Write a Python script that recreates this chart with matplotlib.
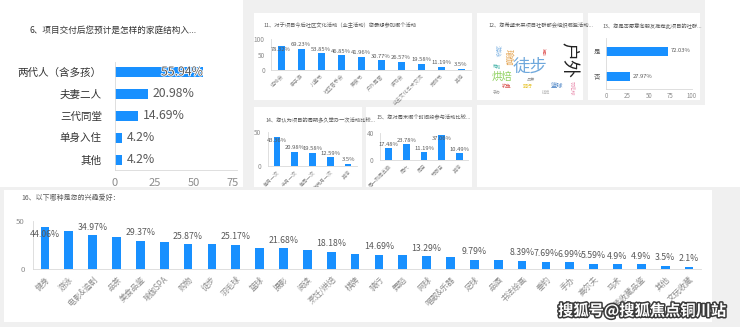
import matplotlib
matplotlib.use("Agg")
import matplotlib.pyplot as plt
from matplotlib.patches import Rectangle
import matplotlib.patheffects as pe

plt.rcParams['font.family'] = ['Noto Sans CJK SC', 'DejaVu Sans']

# ---------------- data ----------------
q6_title = "6、项目交付后您预计是怎样的家庭结构入..."
q6_cats = ["两代人（含多孩）", "夫妻二人", "三代同堂", "单身入住", "其他"]
q6_vals = [55.94, 20.98, 14.69, 4.2, 4.2]

q11_title = "11、对于项目今后社区文化活动（业主活动）您最想参加哪个活动"
q11_cats = ["运动会", "亲子游", "儿童节", "社区音乐会", "美食节", "户外露营",
            "读书会", "业主文化艺术交流", "宠物节", "其他"]
q11_vals = [78.32, 69.23, 53.85, 46.85, 41.96, 30.77, 26.57, 19.58, 11.19, 3.5]

q12_title = "12、您希望未来项目社群都会组织哪些活动..."
q12_words = ["户外", "徒步", "烘焙", "瑜伽", "游泳", "篮球", "羽毛球", "钓鱼",
             "骑行", "品茶", "摄影", "手办", "棋牌", "舞蹈"]
q12_weights = [13, 12.5, 7.5, 6, 4.5, 4.5, 3.5, 3.5, 3.5, 3, 3, 3, 3, 3]

q13_title = "13、您是否愿意向朋友推荐此项目的社群..."
q13_cats = ["是", "否"]
q13_vals = [72.03, 27.97]

q14_title = "14、您认为项目的周期多久举办一次活动比较..."
q14_cats = ["每月一次", "半月一次", "每周一次", "每两月一次", "其他"]
q14_vals = [43.36, 20.98, 19.58, 12.59, 3.5]

q15_title = "15、您对周末哪个时间段参与活动比较..."
q15_cats = ["周一到周五晚", "周六", "周日", "节假日", "其他"]
q15_vals = [17.48, 23.78, 11.19, 37.06, 10.49]

q16_title = "16、以下哪种是您的兴趣爱好："
q16_cats = ["健身", "游泳", "电影&追剧", "品茶", "美食品鉴", "瑜伽SPA", "购物",
            "徒步", "羽毛球", "篮球", "摄影", "阅读", "烹饪/烘焙", "棋牌", "骑行",
            "舞蹈", "网球", "唱歌&乐器", "足球", "品酒", "书法绘画", "垂钓", "手办",
            "高尔夫", "马术", "古董收藏品鉴", "其他", "文玩收藏"]
q16_vals = [44.06, 39.86, 34.97, 33.57, 29.37, 27.97, 25.87, 25.87, 25.17, 21.68,
            21.68, 20.28, 18.18, 15.38, 14.69, 14.69, 13.29, 12.59, 9.79, 9.09,
            8.39, 7.69, 6.99, 5.59, 4.9, 4.9, 3.5, 2.1]
# value labels are thinned to every other bar while they are wide
q16_dense_from = 20

watermark = "搜狐号@搜狐焦点铜川站"

# ---------------- styling ----------------
BLUE = "#1890ff"
SPINE = "#d9d9d9"
TICK = "#8c8c8c"
LABEL = "#595959"

W, H = 740, 327
fig = plt.figure(figsize=(W / 100, H / 100), dpi=100, facecolor="#f0f0f0")


def box(x0, y0, x1, y1):
    return [x0 / W, 1 - y1 / H, (x1 - x0) / W, (y1 - y0) / H]


def card(x0, y0, x1, y1, z=-1, color="white"):
    fig.add_artist(Rectangle((x0 / W, 1 - y1 / H), (x1 - x0) / W, (y1 - y0) / H,
                             transform=fig.transFigure, facecolor=color,
                             edgecolor="none", zorder=z))


def ftext(x, y, s, **kw):
    return fig.text(x / W, 1 - y / H, s, **kw)


def style(ax, left=True):
    ax.set_facecolor("none")
    for s in ("top", "right"):
        ax.spines[s].set_visible(False)
    ax.spines["left"].set_visible(left)
    ax.spines["left"].set_color(SPINE)
    ax.spines["bottom"].set_color(SPINE)
    ax.spines["left"].set_linewidth(0.6)
    ax.spines["bottom"].set_linewidth(0.6)


def vbar_panel(ax, cats, vals, top, yticks, fs_val, fs_tick, fs_cat, ypad, cat_pad,
               width, label_px, gap_pt):
    style(ax)
    x = list(range(len(cats)))
    ax.bar(x, vals, width=width, color=BLUE)
    ax.set_xlim(-0.5, len(cats) - 0.5)
    ax.set_ylim(0, top)
    ax.set_yticks(yticks)
    ax.tick_params(axis="y", length=0, pad=ypad, labelsize=fs_tick, labelcolor=TICK)
    ax.set_xticks(x, cats, rotation=45, ha="right", rotation_mode="anchor")
    ax.tick_params(axis="x", length=0, pad=cat_pad, labelsize=fs_cat, labelcolor=TICK)
    h_px = ax.get_position().height * H
    room = label_px / h_px * top
    texts = []
    for xi, v in zip(x, vals):
        inside = v + room > top
        t = ax.annotate(f"{v:g}%", (xi, v), xytext=(0, -gap_pt if inside else gap_pt),
                        textcoords="offset points", ha="center",
                        va="top" if inside else "bottom", fontsize=fs_val,
                        color=LABEL)
        texts.append(t)
    return texts


# ---------------- card backgrounds ----------------
card(0, 0, 243, 187)
card(254, 13, 472, 100)
card(477, 13, 583, 100)
card(588, 13, 700, 100)
card(705, 0, 740, 187)
card(254, 107, 362, 187)
card(366, 107, 472, 187)
card(477, 105, 740, 187)

# ---------------- Q6: horizontal bars ----------------
ftext(29, 30, q6_title, fontsize=6.2, color="#333333", va="center")
ax6 = fig.add_axes(box(115, 62, 237, 170))
style(ax6)
y6 = list(range(len(q6_cats)))
ax6.barh(y6, q6_vals, height=0.45, color=BLUE)
ax6.set_ylim(len(q6_cats) - 0.5454, -0.4545)
ax6.set_xlim(0, 77.7)
ax6.set_xticks([0, 25, 50, 75])
ax6.set_yticks(y6, q6_cats)
ax6.tick_params(axis="y", length=0, pad=9.5, labelsize=7.6, labelcolor="#333333")
ax6.tick_params(axis="x", length=0, pad=5.5, labelsize=8, labelcolor=TICK)
for yi, v in zip(y6, q6_vals):
    inside = v > 50
    ax6.annotate(f"{v:g}%", (v, yi), xytext=(0 if inside else 3.5, 0),
                 textcoords="offset points", ha="right" if inside else "left",
                 va="center", fontsize=8.8, color="#595959",
                 path_effects=[pe.withStroke(linewidth=1.2, foreground="white")] if inside else None)

# ---------------- Q11 ----------------
ftext(263, 25, q11_title, fontsize=3.8, color=LABEL, va="center")
ax11 = fig.add_axes(box(271, 39, 471, 70))
vbar_panel(ax11, q11_cats, q11_vals, 100, [0, 50, 100], 4.2, 4.6, 3.7, 4.5, 2.5,
           0.35, 7, 1.2)

# ---------------- Q12: word cloud ----------------
ftext(488, 25, q12_title, fontsize=3.8, color=LABEL, va="center")
cloud_layout = [  # (x, y, rotation, color) in pixel space
    (568, 60, -90, "#222222"),
    (530, 67, 0, "#6fa8dc"),
    (502, 77, 0, "#8fd15f"),
    (508, 57, -90, "#e3a04a"),
    (497, 51, -90, "#7fb3e3"),
    (557, 86, 0, "#4f86c6"),
    (571, 88, -90, "#e98aab"),
    (507, 86, 0, "#d9534f"),
    (528, 86, 0, "#e6c229"),
    (531, 80, 0, "#9e9e9e"),
    (543, 52, -90, "#e57373"),
    (497, 93, 0, "#9e9e9e"),
    (546, 93, 0, "#bdbdbd"),
    (497, 67, 0, "#4db6ac"),
]
for w, wt, (cx, cy, rot, col) in zip(q12_words, q12_weights, cloud_layout):
    ftext(cx, cy, w, fontsize=wt, color=col, rotation=rot, ha="center", va="center")

# ---------------- Q13: horizontal bars ----------------
ftext(602, 25, q13_title, fontsize=3.8, color=LABEL, va="center")
ax13 = fig.add_axes(box(606, 38, 692, 89))
style(ax13)
y13 = list(range(len(q13_cats)))
ax13.barh(y13, q13_vals, height=0.36, color=BLUE)
ax13.set_ylim(1.52, -0.52)
ax13.set_xlim(0, 100)
ax13.set_xticks([0, 25, 50, 75, 100])
ax13.set_yticks(y13, q13_cats)
ax13.tick_params(axis="y", length=0, pad=4.5, labelsize=4.6, labelcolor=LABEL)
ax13.tick_params(axis="x", length=0, pad=2.5, labelsize=4.4, labelcolor=TICK)
for yi, v in zip(y13, q13_vals):
    ax13.annotate(f"{v:g}%", (v, yi), xytext=(2, 0), textcoords="offset points",
                  ha="left", va="center", fontsize=4.2, color=LABEL)

# ---------------- Q14 ----------------
ftext(265, 120, q14_title, fontsize=3.8, color=LABEL, va="center")
ax14 = fig.add_axes(box(268, 132, 357, 166))
vbar_panel(ax14, q14_cats, q14_vals, 50, [0, 50], 4.2, 4.6, 3.6, 5.0, 2.5,
           0.38, 7, 1.0)

# ---------------- Q15 ----------------
ftext(376, 118, q15_title, fontsize=3.8, color=LABEL, va="center")
ax15 = fig.add_axes(box(380, 133, 468, 160))
vbar_panel(ax15, q15_cats, q15_vals, 40, [0, 40], 4.2, 4.6, 3.6, 4.5, 2.5,
           0.38, 7, 1.0)

# ---------------- Q16 (bottom card drawn over the upper row) ----------------
card(0, 187, 740, 190, z=1, color="#f0f0f0")
card(4, 190, 712, 322, z=1)
ftext(21, 198, q16_title, fontsize=5, color=LABEL, va="center", zorder=3)
ax16 = fig.add_axes(box(33, 221, 701, 269))
ax16.set_zorder(2)
labels16 = vbar_panel(ax16, q16_cats, q16_vals, 50, [0, 50], 6.3, 5.6, 5.8, 5.8, 4,
                      0.37, 10, 2.6)
for i, t in enumerate(labels16):
    if i < q16_dense_from and i % 2 == 1:
        t.set_visible(False)

ftext(642, 311, watermark, fontsize=11, color="white", ha="center", va="center",
      weight="bold", zorder=5,
      path_effects=[pe.withStroke(linewidth=2.2, foreground="#3a3a3a")])

fig.savefig("out.png", dpi=100, facecolor=fig.get_facecolor())
